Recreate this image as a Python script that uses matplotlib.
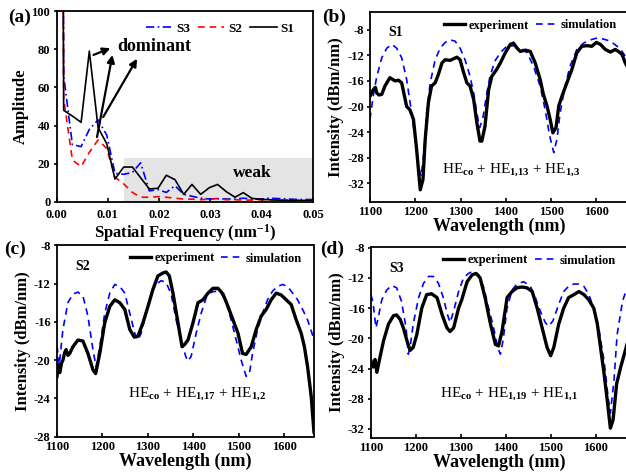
import matplotlib
matplotlib.use("Agg")
import matplotlib.pyplot as plt
from matplotlib.patches import Rectangle

plt.rcParams['font.family'] = ['Liberation Serif', 'DejaVu Serif']
plt.rcParams['font.weight'] = 'bold'
plt.rcParams['mathtext.fontset'] = 'custom'
plt.rcParams['mathtext.rm'] = 'Liberation Serif'
plt.rcParams['mathtext.it'] = 'Liberation Serif:italic'
plt.rcParams['mathtext.bf'] = 'Liberation Serif:bold'

# ---------------- (a) spatial-frequency spectrum ----------------
freq = [0.0, 0.0014, 0.0031, 0.0048, 0.0064, 0.0081, 0.0098, 0.0114, 0.0131, 0.0148,
        0.0164, 0.0181, 0.0198, 0.0214, 0.0231, 0.0248, 0.0264, 0.0281, 0.0298,
        0.0314, 0.0331, 0.0348, 0.0364, 0.0381, 0.0398, 0.0414, 0.0431, 0.0448,
        0.0464, 0.0481, 0.0498]
amp_s1 = [1000, 48, 45, 41.7, 79, 39, 30.5, 12, 18.3, 18.3, 12.7, 6.8, 7.2, 14, 11.7,
          4, 9.2, 4, 7.5, 9.2, 5.4, 2.5, 4.9, 1.9, 1.4, 1.2, 1.0, 0.8, 0.8, 0.8, 0.8]
amp_s2 = [1000, 54, 22, 18.5, 26, 32.5, 28, 13, 9.5, 5, 2.5, 2.5, 2.8, 2.5, 2, 1.5,
          1.5, 1.2, 1.5, 1.8, 1.2, 1.2, 1.0, 1.0, 1.2, 1.2, 1.0, 1.0, 0.9, 0.8, 0.8]
amp_s3 = [1000, 66, 30, 29, 38, 43, 35, 15, 14.5, 15.5, 20.5, 5.8, 6.5, 5, 8.5, 4,
          3, 2, 1.6, 1.7, 1.6, 1.5, 2, 1.5, 1.5, 2, 1.8, 1.6, 1.4, 1.3, 1.3]

# ---------------- (b) S1 ----------------
wl_b_exp = [1100, 1107, 1112, 1115, 1120, 1126, 1133, 1144, 1155, 1163, 1170, 1181, 1188,
            1196, 1203, 1211, 1217, 1222, 1229, 1236, 1244, 1251, 1259, 1266, 1277,
            1292, 1299, 1306, 1314, 1321, 1329, 1336, 1343, 1347, 1354, 1362, 1369,
            1380, 1388, 1399, 1410, 1417, 1425, 1432, 1443, 1454, 1465, 1476, 1483,
            1491, 1498, 1504, 1511, 1517, 1524, 1535, 1546, 1557, 1568, 1579, 1590,
            1600, 1609, 1620, 1631, 1642, 1649, 1657, 1664, 1670]
int_b_exp = [-18.4, -17.4, -17.0, -17.9, -18.2, -18.1, -16.8, -15.5, -16.0, -15.9, -16.3,
             -20.0, -20.5, -22.0, -26.7, -33.0, -31.4, -25.1, -19.4, -16.8, -16.3,
             -15.0, -13.2, -12.7, -12.8, -12.3, -12.7, -14.5, -16.3, -16.8, -18.9,
             -22.5, -25.4, -25.4, -23.1, -17.4, -15.3, -14.2, -13.2, -11.6, -10.3,
             -10.1, -10.9, -11.4, -11.2, -11.4, -13.2, -15.8, -18.1, -19.9, -22.0,
             -24.1, -23.3, -19.9, -18.4, -16.3, -14.2, -11.6, -10.6, -10.5, -10.6,
             -10.0, -10.3, -11.1, -11.5, -11.1, -11.4, -11.9, -13.2, -14.0]
wl_b_sim = [1100, 1107, 1115, 1126, 1137, 1148, 1159, 1170, 1181, 1192, 1200, 1207, 1213,
            1219, 1225, 1233, 1244, 1255, 1266, 1277, 1288, 1299, 1310, 1321, 1329,
            1336, 1342, 1349, 1357, 1365, 1376, 1388, 1402, 1417, 1432, 1447, 1461,
            1476, 1487, 1497, 1506, 1513, 1520, 1531, 1542, 1557, 1572, 1587, 1602,
            1617, 1631, 1646, 1657, 1670]
int_b_sim = [-22.0, -18.4, -15.3, -12.4, -10.9, -10.3, -10.9, -12.4, -15.8, -21.0, -25.1,
             -29.3, -30.9, -27.2, -21.0, -16.3, -12.7, -10.9, -10.0, -9.6, -9.8, -10.9,
             -12.7, -15.3, -17.9, -21.0, -23.3, -22.0, -18.4, -15.3, -12.9, -11.6,
             -10.6, -10.5, -10.9, -11.6, -13.7, -16.8, -20.5, -24.6, -27.2, -25.1,
             -21.0, -16.8, -13.7, -11.1, -10.1, -9.6, -9.3, -9.5, -9.8, -10.6, -11.4,
             -12.8]

# ---------------- (c) S2 ----------------
wl_c_exp = [1100, 1103, 1106, 1110, 1113, 1117, 1120, 1124, 1128, 1135, 1146, 1157, 1168,
            1179, 1185, 1194, 1205, 1216, 1227, 1238, 1249, 1260, 1270, 1278, 1289,
            1300, 1311, 1322, 1333, 1340, 1347, 1355, 1366, 1375, 1380, 1388, 1399,
            1410, 1421, 1432, 1443, 1454, 1465, 1476, 1487, 1498, 1508, 1516, 1527,
            1538, 1549, 1560, 1571, 1582, 1593, 1604, 1615, 1626, 1637, 1644, 1651,
            1659, 1665]
int_c_exp = [-21.7, -20.5, -21.3, -20.3, -20.0, -19.2, -18.9, -19.5, -19.3, -18.6, -17.9,
             -18.0, -19.3, -21.0, -21.4, -19.3, -16.1, -14.4, -13.7, -14.0, -14.7,
             -16.8, -17.6, -17.5, -16.1, -14.4, -12.6, -11.2, -10.9, -10.8, -11.2,
             -13.0, -16.1, -18.6, -18.4, -17.9, -16.1, -14.0, -13.7, -13.0, -12.5,
             -12.5, -13.1, -14.4, -15.8, -17.2, -19.3, -19.4, -18.6, -16.8, -15.4,
             -14.7, -13.7, -13.0, -13.2, -13.7, -14.2, -15.8, -17.2, -18.6, -20.7,
             -23.8, -27.5]
wl_c_sim = [1100, 1105, 1113, 1124, 1135, 1146, 1157, 1168, 1179, 1186, 1194, 1205, 1216,
            1227, 1238, 1249, 1260, 1271, 1278, 1285, 1296, 1307, 1318, 1329, 1340,
            1351, 1362, 1373, 1383, 1388, 1395, 1406, 1417, 1428, 1439, 1450, 1461,
            1472, 1483, 1494, 1505, 1516, 1523, 1530, 1541, 1552, 1563, 1574, 1585,
            1596, 1607, 1618, 1629, 1640, 1651, 1665]
int_c_sim = [-18.5, -20.5, -16.8, -14.0, -13.1, -12.9, -13.3, -15.4, -18.9, -20.7, -18.6,
             -15.1, -13.0, -12.1, -12.3, -13.0, -15.1, -17.2, -17.9, -17.2, -15.1,
             -13.0, -12.1, -11.7, -11.9, -13.1, -15.8, -17.9, -19.6, -20.1, -19.6,
             -17.2, -15.1, -13.5, -12.9, -12.8, -13.0, -14.0, -15.8, -17.9, -20.0,
             -21.7, -21.4, -19.3, -16.8, -15.1, -13.7, -12.8, -12.3, -12.1, -12.3,
             -13.0, -13.7, -14.7, -15.8, -17.8]

# ---------------- (d) S3 ----------------
wl_d_exp = [1100, 1105, 1109, 1113, 1120, 1128, 1139, 1150, 1157, 1165, 1172, 1180, 1187,
            1194, 1202, 1213, 1224, 1235, 1247, 1258, 1269, 1276, 1284, 1295, 1302,
            1314, 1325, 1334, 1343, 1354, 1366, 1377, 1384, 1392, 1403, 1414, 1425,
            1436, 1447, 1459, 1470, 1481, 1492, 1500, 1507, 1518, 1529, 1540, 1552,
            1563, 1574, 1585, 1596, 1604, 1611, 1619, 1626, 1633, 1639, 1647, 1656,
            1670]
int_d_exp = [-23.0, -23.8, -22.8, -24.5, -22.5, -20.3, -18.1, -17.0, -16.9, -17.5, -18.6,
             -20.3, -21.6, -21.2, -19.5, -16.0, -14.2, -14.1, -14.6, -16.8, -18.6,
             -19.1, -18.6, -16.0, -14.9, -12.5, -11.6, -11.4, -12.0, -14.6, -18.1,
             -20.8, -21.0, -19.0, -14.6, -13.8, -13.3, -13.2, -13.3, -13.8, -16.0,
             -18.6, -21.2, -22.3, -21.2, -18.1, -16.0, -14.6, -14.2, -13.8, -14.2,
             -14.9, -16.0, -18.1, -21.2, -24.7, -28.2, -31.9, -30.8, -26.0, -23.8,
             -20.8]
wl_d_sim = [1100, 1105, 1111, 1116, 1124, 1135, 1146, 1157, 1168, 1178, 1183, 1187, 1194,
            1206, 1217, 1228, 1239, 1250, 1261, 1270, 1276, 1284, 1295, 1306, 1317,
            1328, 1340, 1351, 1362, 1373, 1382, 1388, 1394, 1403, 1414, 1425, 1440,
            1455, 1466, 1477, 1488, 1495, 1505, 1518, 1529, 1540, 1552, 1563, 1574,
            1585, 1596, 1607, 1619, 1628, 1633, 1641, 1648, 1660, 1670]
int_d_sim = [-14.2, -15.5, -18.6, -17.3, -14.9, -13.6, -13.0, -13.3, -15.1, -18.6, -22.1,
             -21.2, -18.1, -14.6, -12.7, -11.8, -11.8, -12.7, -14.6, -16.8, -17.9,
             -16.4, -13.8, -12.0, -11.4, -11.1, -11.6, -13.3, -16.0, -18.6, -21.2,
             -22.1, -20.3, -16.0, -13.6, -12.8, -12.5, -13.1, -14.6, -16.4, -17.9,
             -18.4, -17.7, -15.5, -13.8, -13.1, -12.8, -12.8, -13.1, -14.2, -16.0,
             -18.6, -23.0, -27.8, -29.9, -25.6, -19.5, -15.1, -13.3]

W, H = 626, 474
fig = plt.figure(figsize=(W / 100, H / 100), dpi=100)


def box(l, t, r, b):
    return [l / W, 1 - b / H, (r - l) / W, (b - t) / H]


TICK = 9
LAB = 12


def style(ax, xpad):
    for s in ax.spines.values():
        s.set_linewidth(1.3)
    ax.tick_params(axis='x', direction='in', length=3, width=1.2, labelsize=TICK, pad=xpad)
    ax.tick_params(axis='y', direction='out', length=2.5, width=1.2, labelsize=TICK, pad=2)
    for lab in ax.get_xticklabels() + ax.get_yticklabels():
        lab.set_fontweight('bold')


# ---- (a)
axa = fig.add_axes(box(56.5, 11, 313, 202))
axa.add_patch(Rectangle((0.0131, 0), 0.05 - 0.0131, 23, facecolor='#e4e4e4',
                        edgecolor='none', zorder=0))
axa.plot(freq, amp_s3, color='#0000ff', lw=1.2, ls=(0, (5, 2, 1, 2)), label='S3', zorder=3)
axa.plot(freq, amp_s2, color='#ff0000', lw=1.2, ls=(0, (4, 3)), label='S2', zorder=3)
axa.plot(freq, amp_s1, color='black', lw=1.2, ls='-', label='S1', zorder=4)
axa.set_xlim(0, 0.05)
axa.set_ylim(0, 100)
axa.set_xticks([0, 0.01, 0.02, 0.03, 0.04, 0.05])
axa.set_xticklabels(['0.00', '0.01', '0.02', '0.03', '0.04', '0.05'])
axa.set_yticks([0, 20, 40, 60, 80, 100])
style(axa, 5)
axa.set_ylabel('Amplitude', fontsize=LAB, fontweight='bold', labelpad=2)
axa.set_xlabel('Spatial Frequency (nm$^{\\mathbf{-1}}$)', fontsize=LAB, fontweight='bold',
               labelpad=1)
axa.legend(loc='upper right', ncol=3, frameon=False, handlelength=2.0,
           handletextpad=0.3, columnspacing=0.6, bbox_to_anchor=(0.975, 1.0),
           prop={'weight': 'bold', 'size': 9.5})
axa.text(0.0118, 81.5, 'dominant', fontsize=13, fontweight='bold', va='center', ha='left')
axa.text(0.0382, 15, 'weak', fontsize=12.5, fontweight='bold', va='center', ha='center')
arw = dict(arrowstyle='-|>', color='black', lw=1.6, mutation_scale=11, shrinkA=0, shrinkB=0)
axa.annotate('', xy=(0.0105, 80.5), xytext=(0.0072, 77), arrowprops=arw)
axa.annotate('', xy=(0.0109, 77), xytext=(0.0079, 34), arrowprops=arw)
axa.annotate('', xy=(0.0157, 75), xytext=(0.0091, 44.5), arrowprops=arw)


def spectrum(rect, wl_e, in_e, wl_s, in_s, ylim, yticks, xlim, tag, mode, mpos):
    ax = fig.add_axes(rect)
    ax.plot(wl_e, in_e, color='black', lw=2.4, label='experiment', zorder=3)
    ax.plot(wl_s, in_s, color='#0000ff', lw=1.2, ls=(0, (4, 3)), label='simulation', zorder=2)
    ax.set_xlim(*xlim)
    ax.set_ylim(*ylim)
    ax.set_xticks([1100, 1200, 1300, 1400, 1500, 1600])
    ax.set_yticks(yticks)
    ax.set_yticklabels([str(v) for v in yticks])
    style(ax, 3)
    ax.set_xlabel('Wavelength (nm)', fontsize=LAB + 1, fontweight='bold', labelpad=0)
    ax.set_ylabel('Intensity (dBm/nm)', fontsize=LAB, fontweight='bold', labelpad=2)
    ax.text(0.07, 0.89, tag, transform=ax.transAxes, fontsize=10, fontweight='bold',
            ha='left', va='center')
    ax.text(mpos[0], mpos[1], mode, transform=ax.transAxes, fontsize=11,
            fontweight='normal', ha='left', va='center')
    ax.legend(loc='upper right', bbox_to_anchor=(0.985, 1.0), ncol=2, frameon=False,
              handlelength=1.7, handletextpad=0.3, columnspacing=0.5, borderaxespad=0.2,
              prop={'weight': 'bold', 'size': 9})
    return ax


axb = spectrum(box(370, 12, 628, 202), wl_b_exp, int_b_exp, wl_b_sim, int_b_sim,
               (-34.9, -5.25), [-32, -28, -24, -20, -16, -12, -8], (1100, 1670), 'S1',
               'HE$_{\\mathrm{co}}$ + HE$_{\\mathrm{1{,}13}}$ + HE$_{\\mathrm{1{,}3}}$',
               (0.28, 0.17))
axc = spectrum(box(57, 245, 313.5, 437), wl_c_exp, int_c_exp, wl_c_sim, int_c_sim,
               (-28.02, -7.98), [-28, -24, -20, -16, -12, -8], (1100, 1664), 'S2',
               'HE$_{\\mathrm{co}}$ + HE$_{\\mathrm{1{,}17}}$ + HE$_{\\mathrm{1{,}2}}$',
               (0.277, 0.225))
axd = spectrum(box(371, 247, 627, 438), wl_d_exp, int_d_exp, wl_d_sim, int_d_sim,
               (-33.2, -7.9), [-32, -28, -24, -20, -16, -12, -8], (1100, 1670), 'S3',
               'HE$_{\\mathrm{co}}$ + HE$_{\\mathrm{1{,}19}}$ + HE$_{\\mathrm{1{,}1}}$',
               (0.27, 0.23))

fig.text(8 / W, 1 - 17 / H, '(a)', fontsize=14, fontweight='bold', va='center')
fig.text(322 / W, 1 - 17 / H, '(b)', fontsize=14, fontweight='bold', va='center')
fig.text(4 / W, 1 - 249 / H, '(c)', fontsize=14, fontweight='bold', va='center')
fig.text(320 / W, 1 - 249 / H, '(d)', fontsize=14, fontweight='bold', va='center')

fig.savefig('out.png', dpi=100)
